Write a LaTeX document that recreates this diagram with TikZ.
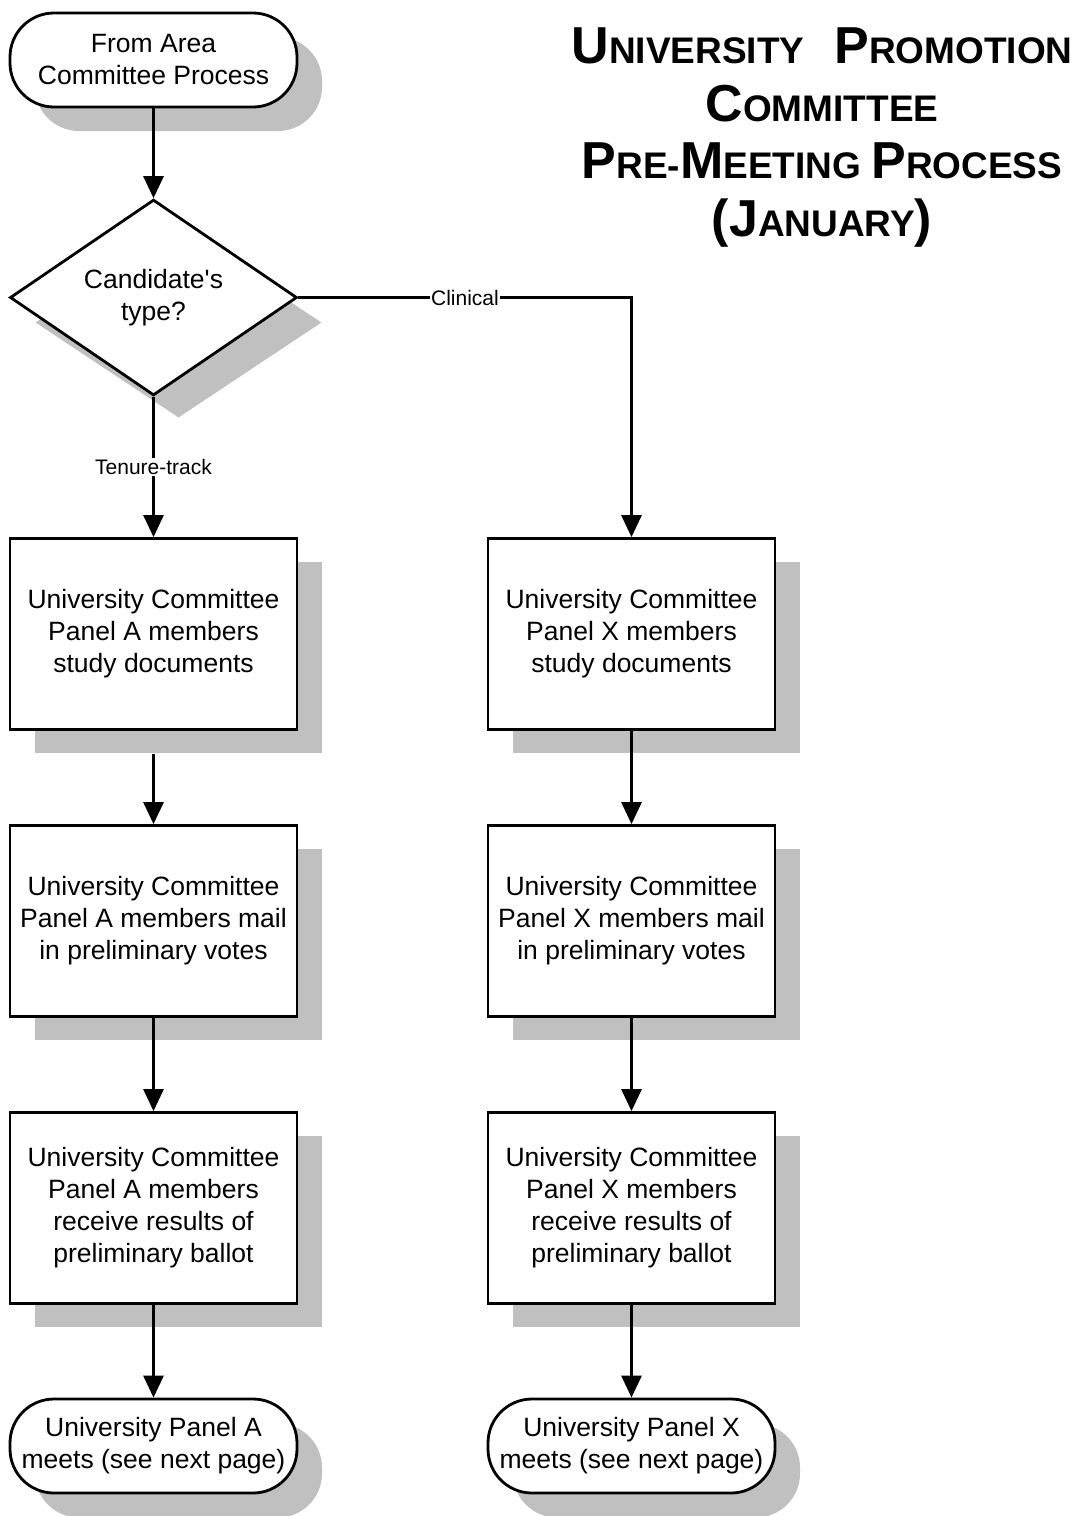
\documentclass[tikz,border=0pt]{standalone}
\usepackage{fontspec}
\setmainfont{Liberation Sans}[Ligatures=TeXOff]
\usetikzlibrary{shapes.geometric,arrows.meta,calc}
\definecolor{shadowgray}{RGB}{192,192,192}
\newcommand{\ttlcap}[1]{{\fontsize{52}{57.5}\selectfont #1}}
\begin{document}
\begin{tikzpicture}[x=1pt,y=-1pt,
  base/.style={line width=2.8pt, align=center, font=\fontsize{26.5}{32}\selectfont, inner sep=0pt},
  procbox/.style={base, draw, fill=white, rectangle, minimum width=287pt, minimum height=191pt},
  termbox/.style={base, draw, fill=white, rectangle, rounded corners=44pt, minimum width=287pt, minimum height=94pt},
  decbox/.style={base, draw, fill=white, diamond, minimum width=287pt, minimum height=191pt},
  procshadow/.style={procbox, draw=none, fill=shadowgray},
  termshadow/.style={termbox, draw=none, fill=shadowgray},
  decshadow/.style={decbox, draw=none, fill=shadowgray},
  flow/.style={line width=2.8pt, -{Triangle[length=22pt,width=20pt]}},
  lbl/.style={fill=white, font=\fontsize{21}{25}\selectfont, inner sep=1.5pt},
  titletext/.style={align=center, inner sep=0pt, font=\fontsize{37}{57.5}\selectfont\bfseries}
]
\useasboundingbox (0,0) rectangle (1078,1516);

% shadows
\node[termshadow] (starts) at (178.5,84) {};
\node[decshadow]  (dias)   at (178.5,322.5) {};
\node[procshadow] (A1s) at (178.5,657.5) {};
\node[procshadow] (A2s) at (178.5,944.5) {};
\node[procshadow] (A3s) at (178.5,1231.5) {};
\node[termshadow] (endAs) at (178.5,1470.5) {};
\node[procshadow] (X1s) at (656.5,657.5) {};
\node[procshadow] (X2s) at (656.5,944.5) {};
\node[procshadow] (X3s) at (656.5,1231.5) {};
\node[termshadow] (endXs) at (656.5,1470.5) {};

% nodes
\node[termbox] (start) at (153.5,60) {From Area\\Committee Process};
\node[decbox] (dia) at (153.5,297.5) {Candidate's\\type?};
\node[procbox] (A1) at (153.5,634) {University Committee\\Panel A members\\study documents};
\node[procbox] (A2) at (153.5,921) {University Committee\\Panel A members mail\\in preliminary votes};
\node[procbox] (A3) at (153.5,1208) {University Committee\\Panel A members\\receive results of\\preliminary ballot};
\node[termbox] (endA) at (153.5,1446) {University Panel A\\meets (see next page)};
\node[procbox] (X1) at (631.5,634) {University Committee\\Panel X members\\study documents};
\node[procbox] (X2) at (631.5,921) {University Committee\\Panel X members mail\\in preliminary votes};
\node[procbox] (X3) at (631.5,1208) {University Committee\\Panel X members\\receive results of\\preliminary ballot};
\node[termbox] (endX) at (631.5,1446) {University Panel X\\meets (see next page)};

% title
\node[titletext, anchor=north] (title) at (822,28)
  {\ttlcap{U}NIVERSITY\hspace{30pt}\ttlcap{P}ROMOTION\\
   \ttlcap{C}OMMITTEE\\
   \ttlcap{P}RE-\ttlcap{M}EETING \ttlcap{P}ROCESS\\
   \ttlcap{(}\ttlcap{J}ANUARY\ttlcap{)}};

% connectors
\draw[flow] (start.south) -- (dia.north);
\draw[flow] (dia.south) -- node[lbl] {Tenure-track} (A1.north);
\draw[flow] (dia.east) -- node[lbl] {Clinical} (dia.east -| X1.north) -- (X1.north);
\draw[flow] (A1.south |- A1s.south) -- (A2.north);
\draw[flow] (A2.south) -- (A3.north);
\draw[flow] (A3.south) -- (endA.north);
\draw[flow] (X1.south) -- (X2.north);
\draw[flow] (X2.south) -- (X3.north);
\draw[flow] (X3.south) -- (endX.north);
\end{tikzpicture}
\end{document}
